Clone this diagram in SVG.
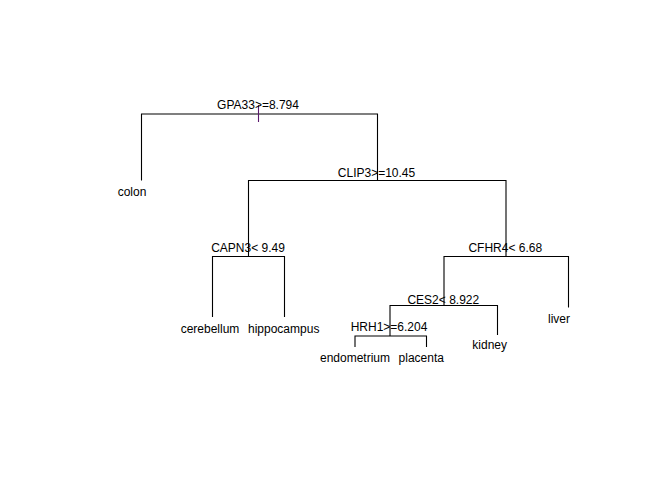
<svg xmlns="http://www.w3.org/2000/svg" width="672" height="480" viewBox="0 0 672 480">
<style>
.e{fill:none;stroke:#000;stroke-width:1.1}
text{font-family:"Liberation Sans",Arial,sans-serif;font-size:12px;fill:#000;text-anchor:middle}
</style>
<rect width="672" height="480" fill="#fff"/>
<g id="connectors">
<path class="e" d="M141.5,180.5 V114 H377.5 V180"/>
<path class="e" d="M248.5,256.5 V180.5 H506 V256.5"/>
<path class="e" d="M212.5,317 V256.5 H284.5 V317"/>
<path class="e" d="M444,306 V256.5 H568.5 V307.5"/>
<path class="e" d="M390,336 V305.5 H497.5 V335"/>
<path class="e" d="M355,347 V336 H426.5 V347"/>
<line x1="258.5" y1="105" x2="258.5" y2="122" stroke="#5B1A6E" stroke-width="1.1"/>
</g>
<g id="n1"><text x="258" y="109">GPA33&gt;=8.794</text></g>
<g id="n2"><text x="132" y="196">colon</text></g>
<g id="n3"><text x="376.5" y="177">CLIP3&gt;=10.45</text></g>
<g id="n6"><text x="248" y="252">CAPN3&lt; 9.49</text></g>
<g id="n12"><text x="210" y="332.5">cerebellum</text></g>
<g id="n13"><text x="283.7" y="332.5">hippocampus</text></g>
<g id="n7"><text x="505.3" y="252">CFHR4&lt; 6.68</text></g>
<g id="n14"><text x="443.3" y="303.5">CES2&lt; 8.922</text></g>
<g id="n28"><text x="389" y="330.5">HRH1&gt;=6.204</text></g>
<g id="n56"><text x="355" y="362">endometrium</text></g>
<g id="n57"><text x="421.3" y="362">placenta</text></g>
<g id="n29"><text x="489.7" y="348.5">kidney</text></g>
<g id="n15"><text x="559" y="322.5">liver</text></g>
</svg>
